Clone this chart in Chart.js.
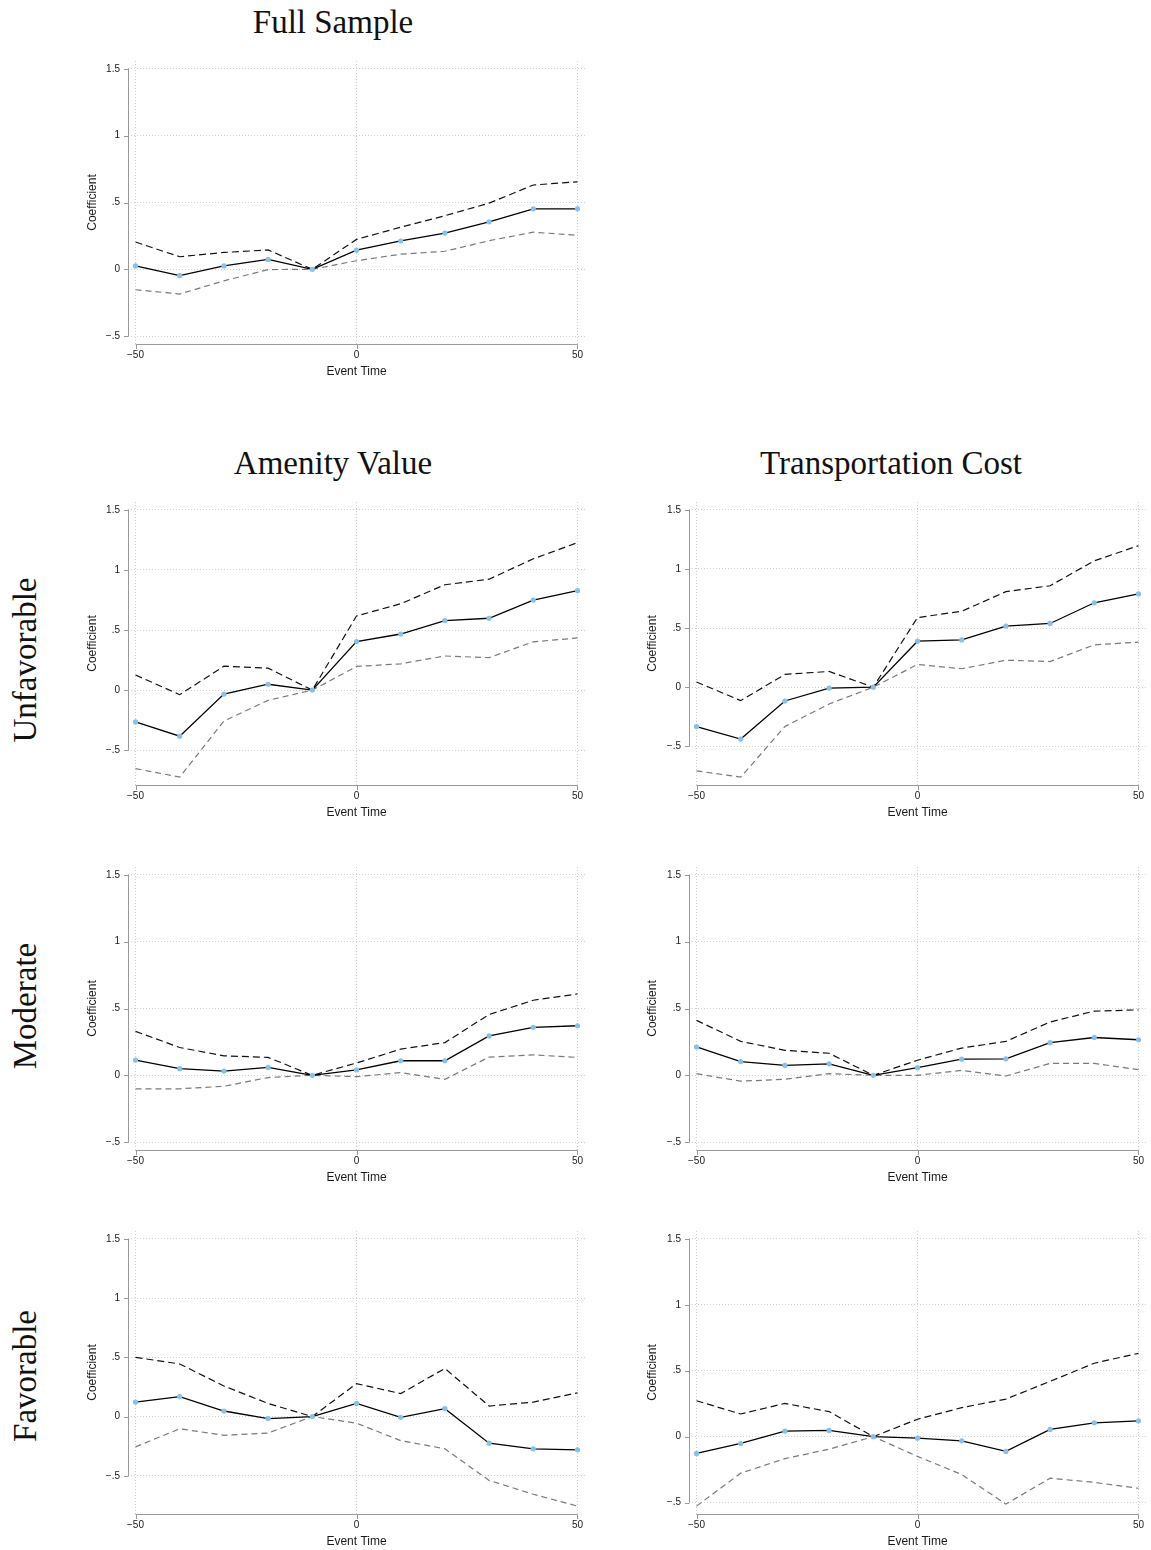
<!DOCTYPE html>
<html>
<head>
<meta charset="utf-8">
<script src="https://cdn.jsdelivr.net/npm/chart.js@4.4.0/dist/chart.umd.min.js"></script>
<style>
  body { margin: 0; background: #fff; width: 1151px; height: 1550px; position: relative; overflow: hidden; }
  canvas { position: absolute; }
  .title { position: absolute; font-family: "Liberation Serif", serif; font-size: 33px; line-height: 33px;
           color: #111; white-space: nowrap; transform: translateX(-50%); }
  .rowlab { position: absolute; font-family: "Liberation Serif", serif; font-size: 33px; line-height: 33px;
            color: #111; white-space: nowrap; transform: translate(-50%, -50%) rotate(-90deg); }
</style>
</head>
<body>
<div class="title" style="left:333px; top:6px;">Full Sample</div>
<div class="title" style="left:333px; top:447px;">Amenity Value</div>
<div class="title" style="left:891px; top:447px;">Transportation Cost</div>
<div class="rowlab" style="left:25px; top:660px;">Unfavorable</div>
<div class="rowlab" style="left:25px; top:1006px;">Moderate</div>
<div class="rowlab" style="left:25px; top:1376px;">Favorable</div>

<script>
// event-study coefficients with 95% bands
const eventTime = [-50, -40, -30, -20, -10, 0, 10, 20, 30, 40, 50];
const xTicks = [-50, 0, 50];
const yTicks = [-0.5, 0, 0.5, 1, 1.5];

const fullCoef  = [0.025, -0.047, 0.025, 0.074, 0, 0.143, 0.212, 0.271, 0.355, 0.453, 0.453];
const fullUpper = [0.204, 0.094, 0.126, 0.145, 0, 0.224, 0.315, 0.401, 0.495, 0.631, 0.655];
const fullLower = [-0.153, -0.185, -0.086, -0.002, 0, 0.064, 0.113, 0.135, 0.214, 0.278, 0.254];

const amenUnfavCoef  = [-0.265, -0.383, -0.033, 0.049, 0, 0.404, 0.467, 0.579, 0.598, 0.749, 0.828];
const amenUnfavUpper = [0.126, -0.038, 0.199, 0.183, 0, 0.617, 0.719, 0.877, 0.923, 1.093, 1.227];
const amenUnfavLower = [-0.653, -0.724, -0.257, -0.085, 0, 0.197, 0.219, 0.284, 0.270, 0.402, 0.434];

const tranUnfavCoef  = [-0.333, -0.439, -0.117, -0.008, 0, 0.389, 0.400, 0.517, 0.539, 0.714, 0.789];
const tranUnfavUpper = [0.044, -0.114, 0.108, 0.133, 0, 0.589, 0.642, 0.808, 0.858, 1.069, 1.197];
const tranUnfavLower = [-0.708, -0.761, -0.333, -0.142, 0, 0.192, 0.156, 0.228, 0.217, 0.358, 0.381];

const amenModCoef  = [0.114, 0.050, 0.032, 0.059, 0, 0.040, 0.109, 0.109, 0.295, 0.359, 0.371];
const amenModUpper = [0.329, 0.208, 0.146, 0.134, 0, 0.092, 0.196, 0.245, 0.455, 0.562, 0.609];
const amenModLower = [-0.101, -0.101, -0.082, -0.017, 0, -0.010, 0.020, -0.030, 0.136, 0.153, 0.134];

const tranModCoef  = [0.212, 0.103, 0.074, 0.086, 0, 0.057, 0.121, 0.123, 0.244, 0.283, 0.266];
const tranModUpper = [0.411, 0.254, 0.187, 0.165, 0, 0.113, 0.204, 0.254, 0.399, 0.480, 0.490];
const tranModLower = [0.012, -0.044, -0.030, 0.012, 0, 0.000, 0.037, -0.005, 0.089, 0.089, 0.042];

const amenFavCoef  = [0.122, 0.169, 0.047, -0.017, 0, 0.111, -0.006, 0.067, -0.225, -0.272, -0.281];
const amenFavUpper = [0.500, 0.444, 0.258, 0.111, 0, 0.278, 0.194, 0.406, 0.089, 0.122, 0.200];
const amenFavLower = [-0.256, -0.103, -0.158, -0.139, 0, -0.056, -0.203, -0.272, -0.539, -0.656, -0.756];

const tranFavCoef  = [-0.127, -0.052, 0.042, 0.047, 0, -0.012, -0.032, -0.112, 0.055, 0.105, 0.120];
const tranFavUpper = [0.272, 0.172, 0.252, 0.190, 0, 0.132, 0.220, 0.285, 0.419, 0.557, 0.632];
const tranFavLower = [-0.527, -0.277, -0.167, -0.095, 0, -0.150, -0.287, -0.512, -0.315, -0.347, -0.392];

Chart.defaults.font.family = '"Liberation Sans", Arial, sans-serif';
Chart.defaults.color = '#1a1a1a';

const MINUS = '\u2212';
function fmtX(v) { return v < 0 ? MINUS + Math.abs(v) : String(v); }
function fmtY(v) {
  let s = String(Math.abs(v));
  if (s.startsWith('0.')) s = s.slice(1);
  return v < 0 ? MINUS + s : s;
}

// axis lines only span the tick range, with short outward ticks
const axisLines = {
  id: 'axisLines',
  afterDraw(chart) {
    const { ctx, chartArea, scales: { x, y } } = chart;
    const left = Math.round(chartArea.left) + 0.5;
    const bottom = Math.round(chartArea.bottom) + 0.5;
    ctx.save();
    ctx.strokeStyle = '#9a9a9a';
    ctx.lineWidth = 1;
    ctx.beginPath();
    ctx.moveTo(left, y.getPixelForValue(yTicks[0]));
    ctx.lineTo(left, y.getPixelForValue(yTicks[yTicks.length - 1]));
    yTicks.forEach(v => {
      const py = Math.round(y.getPixelForValue(v)) + 0.5;
      ctx.moveTo(left, py);
      ctx.lineTo(left - 4.5, py);
    });
    ctx.moveTo(x.getPixelForValue(xTicks[0]), bottom);
    ctx.lineTo(x.getPixelForValue(xTicks[xTicks.length - 1]), bottom);
    xTicks.forEach(v => {
      const px = Math.round(x.getPixelForValue(v)) + 0.5;
      ctx.moveTo(px, bottom);
      ctx.lineTo(px, bottom + 4.5);
    });
    ctx.stroke();
    ctx.restore();
  }
};

const toXY = arr => arr.map((v, i) => ({ x: eventTime[i], y: v }));

function panel(left, top, width, yAxisW, padRight, coef, upper, lower) {
  const canvas = document.createElement('canvas');
  canvas.width = width;
  canvas.height = 337;
  canvas.style.left = left + 'px';
  canvas.style.top = top + 'px';
  document.body.appendChild(canvas);

  const lo = Math.min(yTicks[0], ...coef, ...upper, ...lower);
  const hi = Math.max(yTicks[yTicks.length - 1], ...coef, ...upper, ...lower);
  const pad = (hi - lo) * 0.0295;

  new Chart(canvas, {
    type: 'line',
    data: {
      datasets: [
        { data: toXY(coef), borderColor: '#000', borderWidth: 1.3, tension: 0,
          pointRadius: 2.6, pointBackgroundColor: '#87c0ea', pointBorderWidth: 0, pointBorderColor: '#87c0ea' },
        { data: toXY(upper), borderColor: '#111', borderWidth: 1.2, borderDash: [7, 4], pointRadius: 0, tension: 0 },
        { data: toXY(lower), borderColor: '#7a7a7a', borderWidth: 1.2, borderDash: [6, 4], pointRadius: 0, tension: 0 }
      ]
    },
    options: {
      responsive: false,
      animation: false,
      devicePixelRatio: 1,
      layout: { padding: { top: 10, right: padRight, left: 0, bottom: 0 } },
      plugins: { legend: { display: false }, tooltip: { enabled: false } },
      scales: {
        x: {
          type: 'linear', min: -51.7, max: 51.7,
          afterBuildTicks: s => { s.ticks = xTicks.map(v => ({ value: v })); },
          afterFit: s => { s.height = 40; },
          grid: { color: '#cfcfcf', lineWidth: 1, drawTicks: false },
          border: { display: false, dash: [1, 2] },
          ticks: { padding: 5, font: { size: 10 }, maxRotation: 0, autoSkip: false, callback: v => fmtX(v) },
          title: { display: true, text: 'Event Time', font: { size: 12 }, padding: { top: 0, bottom: 5 } }
        },
        y: {
          type: 'linear', min: lo - pad, max: hi + pad,
          afterBuildTicks: s => { s.ticks = yTicks.map(v => ({ value: v })); },
          afterFit: s => { s.width = yAxisW; },
          grid: { color: '#cfcfcf', lineWidth: 1, drawTicks: false },
          border: { display: false, dash: [1, 2] },
          ticks: { padding: 8, font: { size: 10 }, autoSkip: false, callback: v => fmtY(v) },
          title: { display: true, text: 'Coefficient', font: { size: 12 }, padding: { top: 7, bottom: 0 } }
        }
      }
    },
    plugins: [axisLines]
  });
}

// left column: plot area 128..585, right column: 689..1146
panel(78, 47, 522, 50, 15, fullCoef, fullUpper, fullLower);
panel(78, 488, 522, 50, 15, amenUnfavCoef, amenUnfavUpper, amenUnfavLower);
panel(638, 488, 513, 51, 5, tranUnfavCoef, tranUnfavUpper, tranUnfavLower);
panel(78, 853, 522, 50, 15, amenModCoef, amenModUpper, amenModLower);
panel(638, 853, 513, 51, 5, tranModCoef, tranModUpper, tranModLower);
panel(78, 1217, 522, 50, 15, amenFavCoef, amenFavUpper, amenFavLower);
panel(638, 1217, 513, 51, 5, tranFavCoef, tranFavUpper, tranFavLower);
</script>
</body>
</html>
